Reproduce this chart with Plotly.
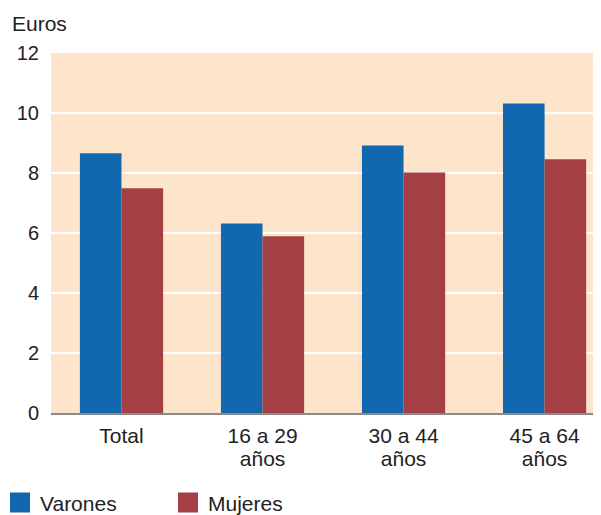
import plotly.graph_objects as go

categories = ["Total", "16 a 29<br>años", "30 a 44<br>años", "45 a 64<br>años"]
varones = [8.66, 6.32, 8.92, 10.32]
mujeres = [7.49, 5.89, 8.02, 8.46]
series_names = ["Varones", "Mujeres"]
y_ticks = [0, 2, 4, 6, 8, 10, 12]

BLUE = "#1268AE"
RED = "#A44045"
BG = "#FDE5CC"
TXT = "#222222"
FONT = "Liberation Sans"

# the page body has an 8px margin, so the figure is drawn offset by (8, 8)
OFF = 8
W, H = 601, 515

fig = go.Figure()
fig.add_trace(go.Bar(x=categories, y=varones, name=series_names[0],
                     marker=dict(color=BLUE, line=dict(width=0)), showlegend=False))
fig.add_trace(go.Bar(x=categories, y=mujeres, name=series_names[1],
                     marker=dict(color=RED, line=dict(width=0)), showlegend=False))
# legend swatches
for nm, col in zip(series_names, [BLUE, RED]):
    fig.add_trace(go.Scatter(x=[None], y=[None], mode="markers", name=nm,
                             marker=dict(symbol="square", size=16, color=col,
                                         line=dict(color=col, width=4)),
                             showlegend=True))

L = 51 - OFF
T = 52.5 - OFF
B = H - (413 - OFF)
R = OFF
PW, PH = W - L - R, H - T - B

# tick text: larger glyphs but tighter line spacing
tick_text = ["<br>".join("<span style='font-size:21px'>%s</span>" % part
                         for part in c.split("<br>")) for c in categories]

fig.update_layout(
    width=W, height=H,
    margin=dict(l=L, r=R, t=T, b=B, autoexpand=False),
    paper_bgcolor="white",
    plot_bgcolor=BG,
    barmode="group",
    bargap=0.41,
    bargroupgap=0,
    font=dict(family=FONT, size=21, color=TXT),
    legend=dict(orientation="h", xref="paper", yref="paper",
                x=(-8 - L) / PW, y=(H - B - (503 - OFF)) / PH,
                xanchor="left", yanchor="middle",
                font=dict(family=FONT, size=21, color=TXT),
                itemwidth=30, entrywidth=123, entrywidthmode="pixels",
                bgcolor="rgba(0,0,0,0)", tracegroupgap=0),
    xaxis=dict(type="category", range=[-0.5, 3.4], showgrid=False,
               showline=True, linecolor="#8a8a8a", linewidth=2,
               ticks="", tickvals=categories, ticktext=tick_text,
               tickfont=dict(family=FONT, size=17.7, color=TXT),
               ticklabelstandoff=7, fixedrange=True),
    yaxis=dict(range=[0, 12], tickvals=y_ticks, showgrid=True,
               gridcolor="white", gridwidth=1.5, zeroline=False,
               showline=False, ticks="",
               tickfont=dict(family=FONT, size=20, color=TXT),
               ticklabelstandoff=11, fixedrange=True),
    annotations=[dict(text="Euros", xref="paper", yref="paper",
                      x=(10 - OFF - L) / PW, y=(H - B - (23 - OFF)) / PH,
                      xanchor="left", yanchor="middle",
                      showarrow=False,
                      font=dict(family=FONT, size=21, color=TXT))],
)

fig.write_html("out.html")
